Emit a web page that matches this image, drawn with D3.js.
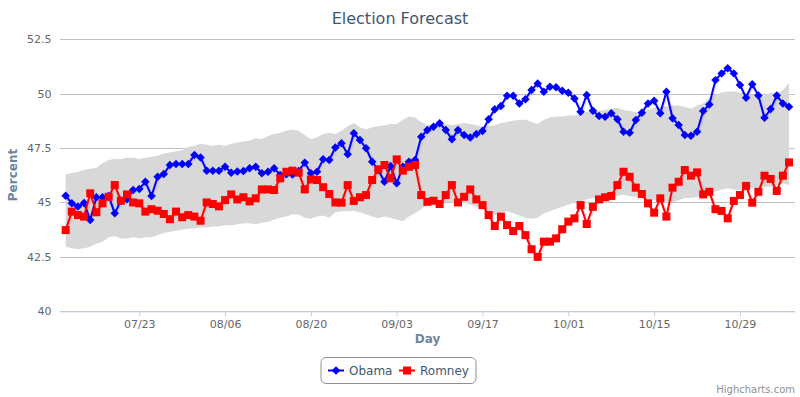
<!DOCTYPE html>
<html><head><meta charset="utf-8">
<script src="https://cdn.jsdelivr.net/npm/d3@7"></script>
<style>
html,body{margin:0;padding:0;background:#fff;}
svg{display:block;font-family:"DejaVu Sans",Verdana,sans-serif;}
</style></head>
<body><svg id="c" width="800" height="397"></svg>
<script>
const startDate = "2012-07-11";
const obama = [45.31,44.96,44.82,44.97,44.19,45.24,45.24,45.3,44.5,45.08,45.15,45.57,45.62,45.95,45.3,46.18,46.31,46.72,46.77,46.77,46.77,47.18,47.07,46.46,46.46,46.46,46.64,46.37,46.42,46.45,46.57,46.64,46.34,46.41,46.57,46.26,46.3,46.29,46.45,46.83,46.34,46.41,46.98,46.95,47.53,47.72,47.21,48.18,47.87,47.49,46.87,46.49,45.95,46.67,45.88,46.64,46.87,46.95,48.02,48.33,48.48,48.64,48.33,47.9,48.33,48.1,47.98,48.15,48.28,48.82,49.28,49.43,49.9,49.9,49.55,49.74,50.17,50.47,50.09,50.32,50.29,50.13,50.04,49.78,49.17,49.94,49.21,48.97,48.94,49.1,48.82,48.25,48.2,48.79,49.12,49.55,49.67,49.1,50.09,48.87,48.56,48.1,48.07,48.25,49.2,49.5,50.62,50.93,51.16,50.93,50.4,49.81,50.43,49.91,48.89,49.29,49.91,49.55,49.4];
const romney = [43.73,44.58,44.42,44.35,45.42,44.55,44.96,45.26,45.8,45.08,45.37,45.0,44.96,44.58,44.69,44.62,44.47,44.23,44.58,44.32,44.42,44.35,44.16,45.0,44.93,44.82,45.11,45.37,45.14,45.24,45.05,45.19,45.6,45.6,45.57,46.11,46.41,46.46,46.37,45.6,46.06,46.03,45.7,45.39,45.0,44.99,45.8,45.07,45.24,45.34,46.03,46.52,46.72,46.11,46.98,46.46,46.64,46.72,45.34,45.03,45.08,44.93,45.34,45.8,45.0,45.26,45.6,45.14,44.88,44.42,43.92,44.35,43.96,43.69,43.92,43.5,42.85,42.5,43.2,43.2,43.35,43.77,44.12,44.27,44.88,44.01,44.8,45.14,45.24,45.3,45.8,46.41,46.18,45.68,45.39,44.96,44.53,45.19,44.35,45.68,45.95,46.49,46.23,46.38,45.37,45.49,44.69,44.61,44.27,45.07,45.34,45.76,44.99,45.49,46.23,46.08,45.53,46.23,46.84];
const bandHigh = [46.3,46.35,46.4,46.5,46.55,46.6,46.8,46.95,47.0,47.0,47.05,47.05,47.0,47.05,47.1,47.15,47.25,47.3,47.35,47.4,47.55,47.6,47.7,47.65,47.6,47.65,47.6,47.7,47.75,47.8,47.85,47.95,47.9,48.05,48.15,48.2,48.3,48.35,48.3,48.1,47.9,48.0,48.15,48.2,48.15,48.3,48.5,48.65,48.45,48.35,48.45,48.5,48.55,48.6,48.6,48.8,48.95,48.9,48.7,48.55,48.6,48.65,48.6,48.55,48.6,48.65,48.6,48.55,48.5,48.5,48.55,48.65,48.7,48.75,48.8,48.8,48.7,48.6,48.8,48.9,48.95,48.95,49.0,49.0,49.1,49.15,49.2,49.2,49.25,49.3,49.35,49.25,49.2,49.15,49.1,49.25,49.35,49.4,49.4,49.45,49.45,49.4,49.3,49.45,49.55,49.8,49.95,50.05,50.1,50.1,50.05,50.0,49.95,49.95,49.9,50.05,50.0,50.15,50.5];
const bandLow = [42.97,42.9,42.85,42.9,42.97,43.1,43.2,43.4,43.45,43.35,43.35,43.4,43.35,43.4,43.4,43.5,43.6,43.65,43.7,43.75,43.8,43.8,43.85,43.85,43.9,43.9,43.95,43.95,44.0,44.05,44.05,44.0,44.07,44.1,44.2,44.3,44.35,44.45,44.45,44.3,44.25,44.35,44.4,44.3,44.55,44.6,44.6,44.62,44.55,44.45,44.35,44.27,44.35,44.3,44.2,44.15,44.35,44.5,44.7,44.9,44.97,45.0,45.03,45.0,45.0,45.0,44.9,44.8,44.7,44.6,44.4,44.55,44.6,44.5,44.4,44.3,44.25,44.3,44.5,44.6,44.7,44.8,44.9,45.0,45.05,45.15,45.2,45.25,45.25,45.3,45.3,45.35,45.3,45.25,45.2,45.15,45.1,45.1,45.05,45.0,45.1,45.2,45.2,45.25,45.3,45.45,45.5,45.6,45.65,45.6,45.57,45.6,45.65,45.7,45.72,45.72,45.8,45.88,45.8];
const yTicks = [40,42.5,45,47.5,50,52.5];
const xTickLabels = ["07/23","08/06","08/20","09/03","09/17","10/01","10/15","10/29"];
const seriesNames = ["Obama","Romney"];
const seriesColors = ["#0000FF","#FF0000"];

const parse = d3.timeParse("%Y-%m-%d");
const t0 = parse(startDate);
const dates = obama.map((_, i) => d3.timeDay.offset(t0, i));
const tickParse = d3.timeParse("%Y/%m/%d");
const xTicks = xTickLabels.map(s => tickParse("2012/" + s));

const svg = d3.select("#c");
const plotL = 59.5, plotR = 795, plotT = 39.2, plotB = 311.3;
const x = d3.scaleTime().domain([dates[0], dates[dates.length - 1]]).range([65.7, 789]);
const y = d3.scaleLinear().domain([40, 52.5]).range([plotB, plotT]);

// title
svg.append("text").attr("x", 400).attr("y", 24).attr("text-anchor", "middle")
  .attr("fill", "#3E576F").attr("font-size", 16).text("Election Forecast");

// grid
const gy = svg.append("g").attr("transform", `translate(${plotL},0)`)
  .call(d3.axisLeft(y).tickValues(yTicks).tickSize(-(plotR - plotL)).tickFormat(d3.format("")).tickPadding(8));
gy.select(".domain").remove();
gy.selectAll(".tick line").attr("stroke", "#C0C0C0").attr("shape-rendering", "crispEdges");
gy.selectAll(".tick text").attr("fill", "#666").attr("font-size", 11).attr("font-family", "DejaVu Sans,Verdana,sans-serif");

// band
const bandData = dates.map((d, i) => ({d, lo: bandLow[i], hi: bandHigh[i]}));
svg.append("path").datum(bandData)
  .attr("fill", "#D8D8D8")
  .attr("d", d3.area().x(d => x(d.d)).y0(d => y(d.lo)).y1(d => y(d.hi)));

// x axis
const gx = svg.append("g").attr("transform", `translate(0,${plotB})`)
  .call(d3.axisBottom(x).tickValues(xTicks).tickFormat(d3.timeFormat("%m/%d")).tickSize(5).tickPadding(4));
gx.select(".domain").attr("d", `M${plotL},0.5H${plotR}`).attr("stroke", "#C0D0E0");
gx.selectAll(".tick line").attr("stroke", "#C0D0E0");
gx.selectAll(".tick text").attr("fill", "#666").attr("font-size", 11).attr("font-family", "DejaVu Sans,Verdana,sans-serif");

// axis titles
svg.append("text").attr("x", 427.5).attr("y", 343).attr("text-anchor", "middle")
  .attr("fill", "#6D869F").attr("font-weight", "bold").attr("font-size", 12).text("Day");
svg.append("text").attr("transform", "translate(17,175) rotate(-90)").attr("text-anchor", "middle")
  .attr("fill", "#6D869F").attr("font-weight", "bold").attr("font-size", 12).text("Percent");

// series
const series = [obama, romney];
const diamond = d3.symbol().type(d3.symbolDiamond2).size(46);
const square = d3.symbol().type(d3.symbolSquare).size(64);
const line = d3.line().x((d, i) => x(dates[i])).y(d => y(d));
const defs = svg.append("defs");
const f = defs.append("filter").attr("id", "sh").attr("x", "-10%").attr("y", "-10%").attr("width", "120%").attr("height", "130%");
f.append("feDropShadow").attr("dx", 1).attr("dy", 1).attr("stdDeviation", 1).attr("flood-color", "#000").attr("flood-opacity", 0.15);

series.forEach((vals, s) => {
  const g = svg.append("g");
  g.append("path").datum(vals).attr("fill", "none").attr("stroke", seriesColors[s])
    .attr("stroke-width", 2).attr("stroke-linejoin", "round").attr("filter", "url(#sh)").attr("d", line);
  g.selectAll("path.m").data(vals).join("path").attr("class", "m")
    .attr("transform", (d, i) => `translate(${x(dates[i])},${y(d)})`)
    .attr("fill", seriesColors[s])
    .attr("d", s === 0 ? diamond() : square());
});

// legend
const lg = svg.append("g");
lg.append("rect").attr("x", 321).attr("y", 357.5).attr("width", 155).attr("height", 26).attr("rx", 5)
  .attr("fill", "#fff").attr("stroke", "#909090");
const legX = [328, 399];
seriesNames.forEach((n, s) => {
  lg.append("line").attr("x1", legX[s]).attr("x2", legX[s] + 16).attr("y1", 370.5).attr("y2", 370.5)
    .attr("stroke", seriesColors[s]).attr("stroke-width", 2);
  lg.append("path").attr("transform", `translate(${legX[s] + 8},370.5)`).attr("fill", seriesColors[s])
    .attr("d", s === 0 ? diamond() : square());
  lg.append("text").attr("x", legX[s] + 21).attr("y", 375).attr("fill", "#3E576F").attr("font-size", 12).text(n);
});

// credits
svg.append("text").attr("x", 795).attr("y", 393).attr("text-anchor", "end")
  .attr("fill", "#909090").attr("font-size", 10).text("Highcharts.com");
</script></body></html>
